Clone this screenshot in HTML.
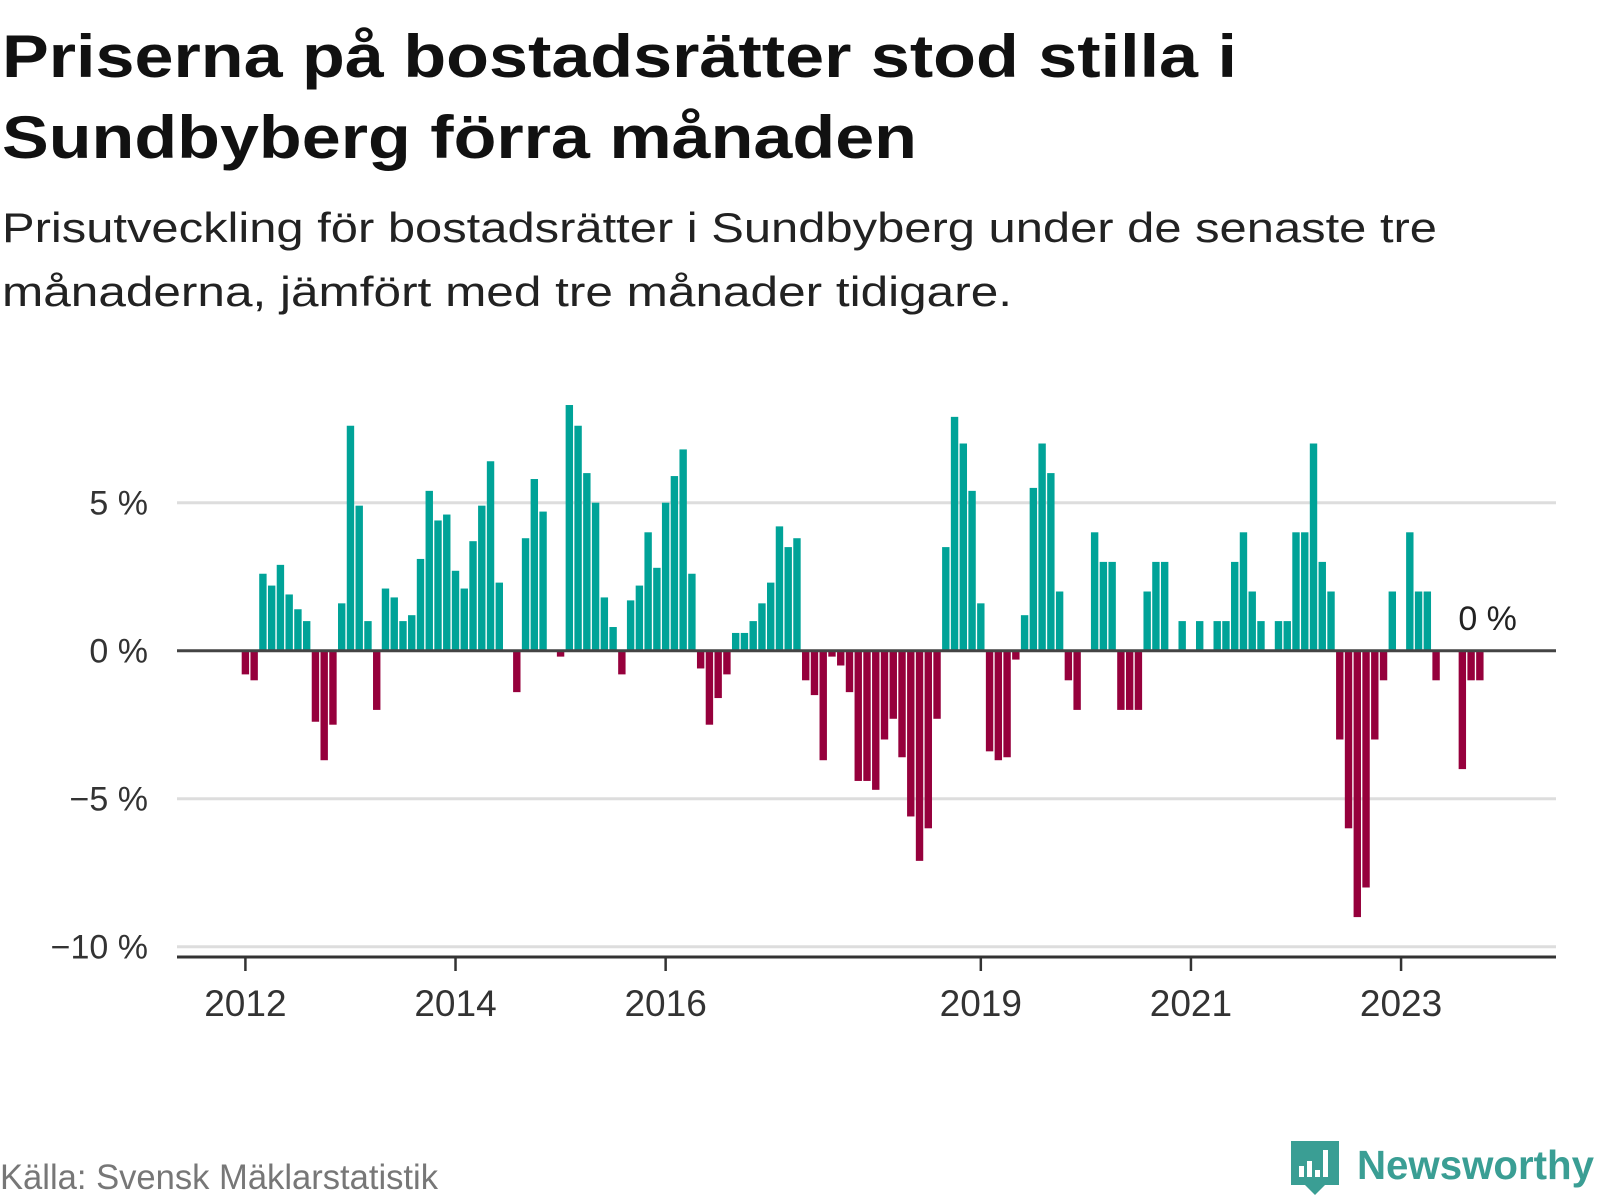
<!DOCTYPE html>
<html>
<head>
<meta charset="utf-8">
<style>
  html, body { margin: 0; padding: 0; background: #fff; }
  svg { display: block; font-family: "Liberation Sans", sans-serif; }
</style>
</head>
<body>
<svg id="chart" width="1600" height="1200" viewBox="0 0 1600 1200" xmlns="http://www.w3.org/2000/svg">
  <text x="2" y="77" font-size="60" font-weight="bold" fill="#111" textLength="1235" lengthAdjust="spacingAndGlyphs">Priserna på bostadsrätter stod stilla i</text>
  <text x="2" y="158" font-size="60" font-weight="bold" fill="#111" textLength="915" lengthAdjust="spacingAndGlyphs">Sundbyberg förra månaden</text>
  <text x="2" y="242" font-size="42" fill="#222" textLength="1435" lengthAdjust="spacingAndGlyphs">Prisutveckling för bostadsrätter i Sundbyberg under de senaste tre</text>
  <text x="2" y="306" font-size="42" fill="#222" textLength="1010" lengthAdjust="spacingAndGlyphs">månaderna, jämfört med tre månader tidigare.</text>

  <g id="grid"></g>
  <g id="bars"></g>
  <g id="axes"></g>

  <text x="0" y="1189" font-size="35" fill="#777" textLength="438" lengthAdjust="spacingAndGlyphs">Källa: Svensk Mäklarstatistik</text>
  <g>
    <path d="M1291 1141 h48 v44 h-14 l-10 10 l-10 -10 h-14 z" fill="#3a9e94"/>
    <rect x="1299" y="1166" width="5" height="11" fill="#fff"/>
    <rect x="1307" y="1161" width="5" height="16" fill="#fff"/>
    <rect x="1315" y="1170" width="5" height="7" fill="#fff"/>
    <rect x="1323" y="1150" width="5" height="27" fill="#fff"/>
    <text x="1357" y="1179" font-size="41" font-weight="bold" fill="#3a9e94" textLength="237" lengthAdjust="spacingAndGlyphs">Newsworthy</text>
  </g>
</svg>
<script>
// Monthly values (%), index 0 = Jan 2012
const monthIndex = [];
const values = [
  -0.8,-1.0,2.6,2.2,2.9,1.9,1.4,1.0,-2.4,-3.7,-2.5,1.6,
  7.6,4.9,1.0,-2.0,2.1,1.8,1.0,1.2,3.1,5.4,4.4,4.6,
  2.7,2.1,3.7,4.9,6.4,2.3,0,-1.4,3.8,5.8,4.7,0,
  -0.2,8.3,7.6,6.0,5.0,1.8,0.8,-0.8,1.7,2.2,4.0,2.8,
  5.0,5.9,6.8,2.6,-0.6,-2.5,-1.6,-0.8,0.6,0.6,1.0,1.6,
  2.3,4.2,3.5,3.8,-1.0,-1.5,-3.7,-0.2,-0.5,-1.4,-4.4,-4.4,
  -4.7,-3.0,-2.3,-3.6,-5.6,-7.1,-6.0,-2.3,3.5,7.9,7.0,5.4,
  1.6,-3.4,-3.7,-3.6,-0.3,1.2,5.5,7.0,6.0,2.0,-1.0,-2.0,
  0,4.0,3.0,3.0,-2.0,-2.0,-2.0,2.0,3.0,3.0,0,1.0,
  0,1.0,0,1.0,1.0,3.0,4.0,2.0,1.0,0,1.0,1.0,
  4.0,4.0,7.0,3.0,2.0,-3.0,-6.0,-9.0,-8.0,-3.0,-1.0,2.0,
  0,4.0,2.0,2.0,-1.0,0,0,-4.0,-1.0,-1.0,0
];
for (let i = 0; i < values.length; i++) monthIndex.push(i);
const yTicks = [5, 0, -5, -10];
const yTickLabels = ["5 %", "0 %", "−5 %", "−10 %"];
const xTickYears = [2012, 2014, 2016, 2019, 2021, 2023];
const lastLabel = "0 %";

const NS = "http://www.w3.org/2000/svg";
const x = m => 245.4 + m * 8.755;
const y = v => 650.7 - v * 29.6;
const xYear = yr => x((yr - 2012) * 12);
const plotL = 177, plotR = 1556, axisY = 957;

function mk(tag, attrs, parent) {
  const el = document.createElementNS(NS, tag);
  for (const k in attrs) el.setAttribute(k, attrs[k]);
  parent.appendChild(el);
  return el;
}
const grid = document.getElementById('grid');
const barsG = document.getElementById('bars');
const axes = document.getElementById('axes');

yTicks.forEach((t, i) => {
  if (t !== 0) {
    const gl = mk('line', {x1: plotL, x2: plotR, y1: y(t), y2: y(t), stroke: '#dddddd', 'stroke-width': 3}, grid);
    
    
  }
  const lb = mk('text', {x: 148, y: y(t) + 12, 'font-size': 34, fill: '#333', 'text-anchor': 'end'}, axes);
  lb.textContent = yTickLabels[i];
  
  
});

values.forEach((v, i) => {
  if (v === 0) return;
  const top = Math.min(y(v), y(0)), h = Math.abs(y(v) - y(0));
  const r = mk('rect', {x: x(monthIndex[i]) - 3.7, y: top, width: 7.4, height: h, fill: v > 0 ? '#00a398' : '#96003c'}, barsG);
  
  
});

const zl = mk('line', {x1: plotL, x2: plotR, y1: y(0), y2: y(0), stroke: '#444', 'stroke-width': 3}, axes);



const ax = mk('line', {x1: plotL, x2: plotR, y1: axisY, y2: axisY, stroke: '#333', 'stroke-width': 3}, axes);



xTickYears.forEach(yr => {
  const tk = mk('line', {x1: xYear(yr), x2: xYear(yr), y1: axisY, y2: axisY + 14, stroke: '#333', 'stroke-width': 2.5}, axes);
  
  
  const lb = mk('text', {x: xYear(yr), y: 1016, 'font-size': 37, fill: '#333', 'text-anchor': 'middle'}, axes);
  lb.textContent = String(yr);
  
  
});

const last = values.length - 1;
const ll = mk('text', {x: x(last) - 1, y: 630, 'font-size': 34, fill: '#222', 'text-anchor': 'middle'}, axes);
ll.textContent = lastLabel;


</script>
</body>
</html>
